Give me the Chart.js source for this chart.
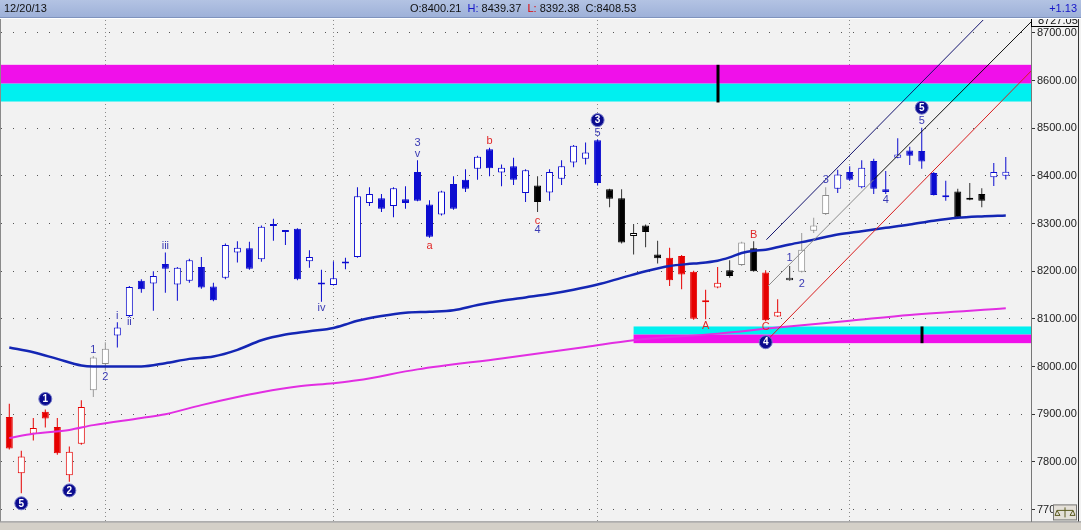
<!DOCTYPE html>
<html>
<head>
<meta charset="utf-8">
<script src="https://cdn.jsdelivr.net/npm/chart.js"></script>
<style>
  html, body { margin: 0; padding: 0; background: #f2f2f2; }
  #wrap { width: 1081px; height: 530px; }
</style>
</head>
<body>
<div id="wrap"><canvas id="chart" width="1081" height="530"></canvas></div>
<script>
// daily candles, oldest first (last one is 12/20/13)
const opens = [7894, 7776, 7859, 7905, 7873, 7772, 7838, 7950, 8005, 8065,
  8106, 8180, 8174, 8215, 8172, 8180, 8209, 8168, 8186, 8239,
  8248, 8225, 8295, 8282, 8289, 8221, 8172, 8171, 8216, 8230,
  8343, 8353, 8337, 8351, 8408, 8340, 8319, 8383, 8392, 8415,
  8456, 8407, 8420, 8364, 8380, 8365, 8394, 8428, 8436, 8475,
  8372, 8353, 8274, 8296, 8235, 8228, 8232, 8199, 8135, 8166,
  8202, 8213, 8248, 8197, 8105, 8181, 8199, 8285, 8320, 8373,
  8408, 8376, 8431, 8372, 8438, 8453, 8452, 8406, 8355, 8367,
  8353, 8362, 8397, 8400.21];
const highs = [7922, 7823, 7892, 7910, 7892, 7832, 7929, 8022, 8051, 8093,
  8169, 8183, 8200, 8239, 8209, 8226, 8230, 8176, 8258, 8263,
  8262, 8296, 8310, 8284, 8290, 8244, 8203, 8221, 8228, 8376,
  8376, 8362, 8376, 8378, 8433, 8349, 8369, 8399, 8414, 8442,
  8459, 8424, 8438, 8414, 8399, 8414, 8433, 8465, 8470, 8477,
  8373, 8372, 8299, 8298, 8264, 8249, 8234, 8201, 8161, 8209,
  8223, 8262, 8263, 8202, 8141, 8211, 8280, 8312, 8376, 8413,
  8420, 8433, 8436, 8410, 8479, 8461, 8501, 8408, 8390, 8373,
  8385, 8374, 8427, 8439.37];
const lows = [7826, 7734, 7845, 7872, 7815, 7758, 7836, 7936, 7991, 8040,
  8104, 8155, 8117, 8155, 8138, 8176, 8163, 8137, 8183, 8218,
  8203, 8220, 8264, 8255, 8181, 8207, 8136, 8170, 8204, 8228,
  8337, 8324, 8313, 8331, 8347, 8270, 8317, 8329, 8366, 8392,
  8399, 8378, 8381, 8345, 8324, 8348, 8381, 8418, 8424, 8380,
  8334, 8258, 8235, 8250, 8216, 8169, 8162, 8098, 8099, 8164,
  8186, 8211, 8199, 8095, 8104, 8180, 8197, 8280, 8318, 8364,
  8390, 8374, 8362, 8362, 8437, 8423, 8415, 8359, 8348, 8312,
  8349, 8334, 8379, 8392.38];
const closes = [7828, 7811, 7871, 7891, 7818, 7821, 7915, 8019, 8037, 8082,
  8167, 8162, 8190, 8205, 8207, 8223, 8166, 8139, 8255, 8249,
  8205, 8293, 8299, 8282, 8183, 8230, 8172, 8185, 8216, 8357,
  8362, 8331, 8374, 8343, 8348, 8272, 8367, 8331, 8373, 8440,
  8416, 8417, 8392, 8412, 8345, 8408, 8420, 8463, 8449, 8385,
  8352, 8260, 8280, 8282, 8227, 8181, 8193, 8100, 8135, 8176,
  8190, 8260, 8200, 8097, 8115, 8186, 8245, 8296, 8360, 8403,
  8392, 8417, 8373, 8366, 8445, 8442, 8430, 8360, 8355, 8313,
  8350, 8348, 8408, 8408.53];
// colour state of each candle: r red, b blue, k black, g grey
const tones = 'rrrrrrr' + 'gg' + 'bbbbbbbbbb' + 'bbbbbbbbbb' + 'bbbbbbbbbb' + 'bbbbb' +
  'k' + 'bbbbb' + 'kkkkk' + 'rrrrr' + 'kgk' + 'rr' + 'kggg' + 'bbbbbbbbbb' + 'kkk' + 'bb';

// moving averages as [candle, price]
const blueAvg = [[0, 8040], [2, 8030], [4, 8016], [6, 8002], [7, 8000], [11, 8000], [13, 8007],
  [15, 8016], [17, 8021], [19, 8035], [21, 8055], [23, 8067], [25, 8074], [27, 8081], [28, 8088],
  [29, 8096], [31, 8106], [33, 8113], [35, 8115], [37, 8118], [39, 8129], [41, 8138], [43, 8145],
  [45, 8152], [47, 8161], [49, 8172], [51, 8186], [53, 8200], [55, 8211], [57, 8216], [59, 8222],
  [60, 8229], [61, 8238], [62, 8243], [63, 8245], [65, 8256], [67, 8266], [69, 8277], [71, 8284],
  [73, 8291], [75, 8298], [77, 8306], [79, 8312], [81, 8315], [83, 8317]];
const pinkAvg = [[0, 7850], [2, 7859], [5, 7867], [7, 7877], [11, 7892], [13, 7900], [16, 7919],
  [19, 7936], [21, 7946], [24, 7958], [27, 7965], [29, 7971], [34, 7994], [41, 8017], [48, 8041],
  [52, 8055], [59, 8069], [64, 8082], [70, 8096], [75, 8108], [83, 8122]];

// trend channel lines [candle, price]
const channelTop = [[63.06, 8266], [85.5, 8839]];
const channelMidLow = [[63.2, 8169], [72, 8392]];
const channelMidHigh = [[72, 8392], [85.5, 8733]];
const channelRed = [[63.12, 8055], [85.5, 8630]];

// price zones: [bottom, split, top] (cyan below split, magenta above)
const upperZone = [8556, 8594, 8633];
const lowerZone = [8049, 8067, 8084];
const lowerZoneStart = 52;
const zoneMarks = [[59, 8554, 8633], [76, 8049, 8084]];

const monthStarts = [8, 27, 49, 70];
const priceTicks = [7700, 7800, 7900, 8000, 8100, 8200, 8300, 8400, 8500, 8600, 8700];

// wave counts: [candle, price, text, degree]
const waveLabels = [
  [1, 7713, '5', 'major'], [3, 7932, '1', 'major'], [5, 7740, '2', 'major'],
  [7, 8034, '1', 'minor'], [8, 7978, '2', 'minor'], [9, 8107, 'i', 'minor'],
  [10, 8093, 'ii', 'minor'], [13, 8253, 'iii', 'minor'], [26, 8122, 'iv', 'minor'],
  [34, 8468, '3', 'minor'], [34, 8445, 'v', 'minor'], [35, 8253, 'a', 'corr'],
  [40, 8473, 'b', 'corr'], [44, 8306, 'c', 'corr'], [44, 8287, '4', 'minor'],
  [49, 8517, '3', 'major'], [49, 8491, '5', 'minor'], [58, 8086, 'A', 'corr'],
  [62, 8276, 'B', 'corr'], [63, 8082, 'C', 'corr'], [63, 8051, '4', 'major'],
  [65, 8228, '1', 'minor'], [66, 8173, '2', 'minor'], [68, 8392, '3', 'minor'],
  [73, 8349, '4', 'minor'], [76, 8543, '5', 'major'], [76, 8515, '5', 'minor']
];

const toneColor = { r: '#e60000', b: '#0c0cd0', k: '#000000', g: '#8a8a8a' };
const wickTone = { r: '#e60000', b: '#0c0cd0', k: '#333333', g: '#9a9a9a' };
const idx = opens.map((_, i) => i);
const pts = arr => arr.map(p => ({ x: p[0], y: p[1] }));

function lineSet(data, color, width, order) {
  return {
    type: 'line', data: pts(data), borderColor: color, borderWidth: width,
    pointRadius: 0, cubicInterpolationMode: 'monotone', order: order
  };
}

const overlay = {
  id: 'overlay',
  beforeDraw(chart) {
    const ctx = chart.ctx;
    ctx.save();
    ctx.fillStyle = '#f2f2f2';
    ctx.fillRect(0, 0, chart.width, chart.height);
    ctx.restore();
  },
  beforeDatasetsDraw(chart) {
    const ctx = chart.ctx, a = chart.chartArea;
    const x = chart.scales.x, y = chart.scales.y;
    const band = (x0, lo, hi, color) => {
      ctx.fillStyle = color;
      ctx.fillRect(x0, y.getPixelForValue(hi), a.right - x0, y.getPixelForValue(lo) - y.getPixelForValue(hi));
    };
    ctx.save();
    band(a.left, upperZone[0], upperZone[1], '#00f0f0');
    band(a.left, upperZone[1], upperZone[2], '#f010ea');
    const lx = x.getPixelForValue(lowerZoneStart);
    band(lx, lowerZone[1], lowerZone[2], '#00f0f0');
    band(lx, lowerZone[0], lowerZone[1], '#f010ea');
    ctx.restore();
  },
  afterDatasetsDraw(chart) {
    const ctx = chart.ctx;
    const x = chart.scales.x, y = chart.scales.y;
    ctx.save();
    ctx.fillStyle = '#000';
    zoneMarks.forEach(m => {
      const px = x.getPixelForValue(m[0]);
      ctx.fillRect(Math.round(px) - 1.5, y.getPixelForValue(m[2]), 3, y.getPixelForValue(m[1]) - y.getPixelForValue(m[2]));
    });
    ctx.textAlign = 'center';
    ctx.textBaseline = 'middle';
    waveLabels.forEach(l => {
      const px = x.getPixelForValue(l[0]), py = y.getPixelForValue(l[1]);
      if (l[3] === 'major') {
        ctx.beginPath();
        ctx.arc(px, py, 6.5, 0, Math.PI * 2);
        ctx.fillStyle = '#0b0b8e';
        ctx.fill();
        ctx.lineWidth = 1;
        ctx.strokeStyle = '#7076c8';
        ctx.stroke();
        ctx.fillStyle = '#ffffff';
        ctx.font = 'bold 10px Arial';
        ctx.fillText(l[2], px, py + 0.5);
      } else {
        ctx.fillStyle = l[3] === 'corr' ? '#e02828' : '#3a3ab4';
        ctx.font = '11px Arial';
        ctx.fillText(l[2], px, py);
      }
    });
    ctx.restore();
  },
  afterDraw(chart) {
    const ctx = chart.ctx, a = chart.chartArea, W = chart.width, H = chart.height;
    ctx.save();
    // top value box on the price axis
    ctx.beginPath();
    ctx.rect(a.right, 18, W - a.right, 9);
    ctx.clip();
    ctx.fillStyle = '#f2f2f2';
    ctx.fillRect(a.right, 18, W - a.right, 9);
    ctx.font = '11px Arial';
    ctx.fillStyle = '#111';
    ctx.textBaseline = 'alphabetic';
    ctx.fillText('8727.05', a.right + 7, 24);
    ctx.strokeStyle = '#000';
    ctx.strokeRect(a.right + 0.5, 17.5, W - a.right - 3, 9);
    ctx.restore();

    ctx.save();
    // header bar
    const g = ctx.createLinearGradient(0, 0, 0, 18);
    g.addColorStop(0, '#b3c3e3');
    g.addColorStop(1, '#9db0d8');
    ctx.fillStyle = g;
    ctx.fillRect(0, 0, W, 18);
    ctx.fillStyle = '#7f93bd';
    ctx.fillRect(0, 17, W, 1);
    ctx.fillStyle = '#ffffff';
    ctx.fillRect(0, 18, W, 1);
    ctx.font = '11px Arial';
    ctx.textBaseline = 'middle';
    ctx.fillStyle = '#111';
    ctx.fillText('12/20/13', 4, 9);
    const last = opens.length - 1;
    const parts = [
      ['O:' + opens[last].toFixed(2) + '  ', '#111'], ['H:', '#1515c8'], [' ' + highs[last].toFixed(2) + '  ', '#111'],
      ['L:', '#e00000'], [' ' + lows[last].toFixed(2) + '  ', '#111'], ['C:' + closes[last].toFixed(2), '#111']
    ];
    let tx = 410;
    parts.forEach(p => {
      ctx.fillStyle = p[1];
      ctx.fillText(p[0], tx, 9);
      tx += ctx.measureText(p[0]).width;
    });
    ctx.fillStyle = '#1515c8';
    ctx.textAlign = 'right';
    ctx.fillText('+1.13', W - 4, 9);

    // frame
    ctx.fillStyle = '#8a8a8a';
    ctx.fillRect(0, 19, 1, a.bottom - 19);
    ctx.fillStyle = '#d4d0c8';
    ctx.fillRect(0, a.bottom + 1, W, H - a.bottom - 1);
    ctx.fillStyle = '#808080';
    ctx.fillRect(0, a.bottom, W, 1);
    ctx.fillStyle = '#333';
    ctx.fillRect(W - 3, 19, 1, a.bottom - 19);

    // small scale icon in the corner
    ctx.fillStyle = '#e4e0d8';
    ctx.fillRect(W - 28, a.bottom - 17, 24, 16);
    ctx.strokeStyle = '#777';
    ctx.strokeRect(W - 27.5, a.bottom - 16.5, 23, 15);
    ctx.strokeStyle = '#5a5a20';
    ctx.beginPath();
    ctx.moveTo(W - 16, a.bottom - 14); ctx.lineTo(W - 16, a.bottom - 4);
    ctx.moveTo(W - 24, a.bottom - 11); ctx.lineTo(W - 8, a.bottom - 11);
    ctx.moveTo(W - 24, a.bottom - 11); ctx.lineTo(W - 26, a.bottom - 6); ctx.lineTo(W - 21, a.bottom - 6); ctx.closePath();
    ctx.moveTo(W - 8, a.bottom - 11); ctx.lineTo(W - 11, a.bottom - 6); ctx.lineTo(W - 6, a.bottom - 6); ctx.closePath();
    ctx.stroke();
    ctx.restore();
  }
};

new Chart(document.getElementById('chart').getContext('2d'), {
  data: {
    datasets: [
      {
        type: 'bar', data: idx.map(i => ({ x: i, y: [lows[i], highs[i]] })),
        backgroundColor: idx.map(i => wickTone[tones[i]]),
        barThickness: 1, inflateAmount: 0, grouped: false, borderWidth: 0, order: 10
      },
      {
        type: 'bar', data: idx.map(i => ({ x: i, y: [opens[i], closes[i]] })),
        backgroundColor: idx.map(i => closes[i] > opens[i] ? '#ffffff' : toneColor[tones[i]]),
        borderColor: idx.map(i => toneColor[tones[i]]),
        borderWidth: 1, borderSkipped: false, barThickness: 7, minBarLength: 2,
        inflateAmount: 0, grouped: false, order: 9
      },
      lineSet(pinkAvg, '#e22ee2', 2, 5),
      lineSet(blueAvg, '#1426b4', 2.5, 4),
      lineSet(channelTop, '#14146e', 1, 2),
      lineSet(channelMidLow, '#8c8c8c', 1, 2),
      lineSet(channelMidHigh, '#111111', 1, 2),
      lineSet(channelRed, '#d81e1e', 1, 2)
    ]
  },
  options: {
    responsive: false,
    animation: false,
    events: [],
    layout: { padding: { left: 1, top: 20, right: 0, bottom: 5 } },
    plugins: { legend: { display: false }, tooltip: { enabled: false } },
    scales: {
      x: {
        type: 'linear', min: -0.69, max: 85.1, offset: false,
        afterBuildTicks: s => { s.ticks = monthStarts.map(v => ({ value: v })); },
        afterFit: s => { s.height = 0; },
        ticks: { display: false },
        grid: { color: '#8a8a8a', drawTicks: false, offset: false },
        border: { display: false, dash: [1, 3] }
      },
      y: {
        position: 'right', min: 7675, max: 8727.05,
        afterBuildTicks: s => { s.ticks = priceTicks.map(v => ({ value: v })); },
        afterFit: s => { s.width = 50; },
        ticks: { callback: v => v.toFixed(2), color: '#222', font: { family: 'Arial', size: 11 }, padding: 2 },
        grid: { color: '#555', tickLength: 4, tickColor: '#333', tickBorderDash: [] },
        border: { display: true, color: '#777', dash: [1, 11] }
      }
    }
  },
  plugins: [overlay]
});
</script>
</body>
</html>
